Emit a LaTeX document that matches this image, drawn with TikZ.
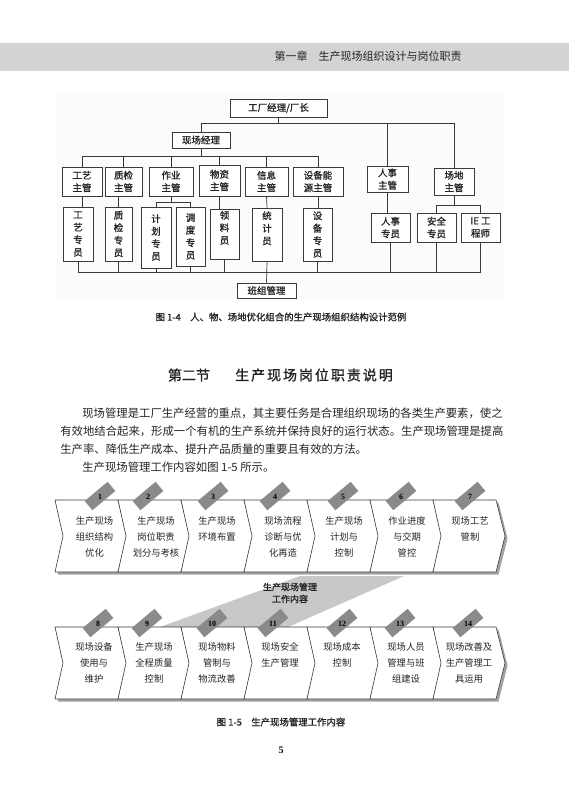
\documentclass[tikz,border=0pt]{standalone}
\usepackage{fontspec}
\setmainfont{Liberation Serif}
\newfontfamily\cjk{Noto Sans CJK SC}
\newfontfamily\cjkbold[FakeBold=1.2]{Noto Sans CJK SC}
\usetikzlibrary{positioning}
\definecolor{cink}{HTML}{242424}
\definecolor{cline}{HTML}{3A3A3A}
\definecolor{cband}{HTML}{D3D3D3}
\definecolor{cwedge}{HTML}{C8C8C8}
\definecolor{ctag}{HTML}{8A8A8A}
\definecolor{cshade}{HTML}{A2A2A2}
\tikzset{
  every picture/.style={line width=0.7pt},
  orgbox/.style={draw=cline, fill=white, align=center, inner sep=0pt, text=cink, font=\cjkbold\fontsize{9.5}{12.5}\selectfont},
  link/.style={draw=cline, line width=0.7pt},
  chev/.style={draw=cline, fill=white, line width=0.6pt},
  chevtext/.style={anchor=north, align=center, inner sep=0pt, text=cink, font=\cjk\fontsize{9.3}{16}\selectfont},
  tag/.style={fill=ctag, rotate=40, minimum width=30pt, minimum height=12pt, inner sep=0pt},
  tagnum/.style={inner sep=0pt, text=black, font=\bfseries\fontsize{8}{9}\selectfont},
  body/.style={anchor=west, inner sep=0pt, text=cink, font=\cjk\fontsize{11.36}{14}\selectfont},
  caption/.style={inner sep=0pt, text=cink, font=\cjkbold\fontsize{9.4}{12}\selectfont},
}

\begin{document}
\begin{tikzpicture}[x=1pt, y=-1pt]
  \useasboundingbox (0,0) rectangle (569,800);
  % ---------- running head ----------
  \fill[cband] (0,43) rectangle (569,71);
  \node[anchor=east, inner sep=0pt, text=cink, font=\cjk\fontsize{11}{13}\selectfont] (head) at (462,56) {第一章\quad 生产现场组织设计与岗位职责};

  % ---------- figure 1-4: organisation chart ----------
  \fill[black!1.5] (57,92) rectangle (503,301);
  \coordinate (bus1) at (0,123);
  \coordinate (bus2) at (0,156);
  \coordinate (bus3) at (0,272);
  \node[orgbox, minimum width=97pt, minimum height=18pt] (fm) at (278.5,108) {工厂经理/厂长};
  \node[orgbox, minimum width=58pt, minimum height=16pt] (sm) at (201,140) {现场经理};
  \node[orgbox, minimum width=40pt, minimum height=29pt] (gy) at (82,181.5) {工艺\\主管};
  \node[orgbox, minimum width=37pt, minimum height=29pt] (zj) at (123.5,181.5) {质检\\主管};
  \node[orgbox, minimum width=44pt, minimum height=29pt] (zy) at (171,181.5) {作业\\主管};
  \node[orgbox, minimum width=41pt, minimum height=31pt] (wz) at (219.5,180.5) {物资\\主管};
  \node[orgbox, minimum width=43pt, minimum height=29pt] (xx) at (266.5,181.5) {信息\\主管};
  \node[orgbox, minimum width=50pt, minimum height=29pt] (sb) at (318,181.5) {设备能\\源主管};
  \node[orgbox, minimum width=41pt, minimum height=26pt] (rs) at (387.5,179) {人事\\主管};
  \node[orgbox, minimum width=40pt, minimum height=27pt] (cd) at (454,181.5) {场地\\主管};
  \node[orgbox, minimum width=30pt, minimum height=54pt] (gy2) at (78,234) {工\\艺\\专\\员};
  \node[orgbox, minimum width=27pt, minimum height=54pt] (zj2) at (118.5,234) {质\\检\\专\\员};
  \node[orgbox, minimum width=30pt, minimum height=61pt] (jh) at (156,237.5) {计\\划\\专\\员};
  \node[orgbox, minimum width=29pt, minimum height=59pt] (dd) at (190.5,236.5) {调\\度\\专\\员};
  \node[orgbox, minimum width=29pt, minimum height=50pt] (ll) at (224.5,234) {领\\料\\员\\\phantom{员}};
  \node[orgbox, minimum width=30pt, minimum height=53pt] (tj) at (267,234.5) {统\\计\\员\\\phantom{员}};
  \node[orgbox, minimum width=29pt, minimum height=53pt] (sb2) at (317.5,234.5) {设\\备\\专\\员};
  \node[orgbox, minimum width=39pt, minimum height=29pt] (rs2) at (390.5,227.5) {人事\\专员};
  \node[orgbox, minimum width=39pt, minimum height=29pt] (aq) at (436.5,227.5) {安全\\专员};
  \node[orgbox, minimum width=39pt, minimum height=29pt] (ie) at (480.5,227.5) {IE 工\\程师};
  \node[orgbox, minimum width=59pt, minimum height=15pt] (bz) at (266.5,290.5) {班组管理};
  % top two levels
  \draw[link] (fm.south) -- (fm.south |- bus1);
  \draw[link] (sm.north) |- (cd.north |- bus1) -- (cd.north);
  \draw[link] (rs.north) -- (rs.north |- bus1);
  \draw[link] (sm.south) -- (sm.south |- bus2);
  \draw[link] (gy.north) |- (sb.north |- bus2) -- (sb.north);
  \draw[link] (zj.north) -- (zj.north |- bus2);
  \draw[link] (zy.north) -- (zy.north |- bus2);
  \draw[link] (wz.north) -- (wz.north |- bus2);
  \draw[link] (xx.north) -- (xx.north |- bus2);
  % chiefs to staff
  \draw[link] (gy.south) -- (gy.south |- gy2.north);
  \draw[link] (zj2.north |- zj.south) -- (zj2.north);
  \draw[link] (zy.south) -- ++(0,6) coordinate (zysplit);
  \draw[link] (jh.north) |- (dd.north |- zysplit) -- (dd.north);
  \draw[link] (wz.south) -- (wz.south |- ll.north);
  \draw[link] (xx.south) -- (tj.north);
  \draw[link] (sb.south) -- (sb.south |- sb2.north);
  \draw[link] (rs.south) -- (rs.south |- rs2.north);
  \draw[link] (cd.south) -- ++(0,10) coordinate (cdsplit);
  \draw[link] (aq.north) |- (ie.north |- cdsplit) -- (ie.north);
  % staff to team management
  \draw[link] (gy2.south) |- (ie.south |- bus3) -- (ie.south);
  \draw[link] (zj2.south) -- (zj2.south |- bus3);
  \draw[link] (jh.south) -- (jh.south |- bus3);
  \draw[link] (dd.south) -- (dd.south |- bus3);
  \draw[link] (ll.south) -- (ll.south |- bus3);
  \draw[link] (sb2.south) -- (sb2.south |- bus3);
  \draw[link] (rs2.south) -- (rs2.south |- bus3);
  \draw[link] (aq.south) -- (aq.south |- bus3);
  \draw[link] (tj.south) -- (bz.north);
  \node[caption] (cap4) at (281,317) {图 1-4\quad 人、物、场地优化组合的生产现场组织结构设计范例};

  % ---------- section title and text ----------
  \node[inner sep=0pt, text=cink, font=\cjkbold\fontsize{14}{16}\selectfont] (sec) at (189,375) {第二节};
  \node[inner sep=0pt, text=cink, font=\cjkbold\fontsize{14}{16}\selectfont\addfontfeature{LetterSpace=14}] (sectitle) at (314,375) {生产现场岗位职责说明};
  \node[body] (p1) at (82,413) {现场管理是工厂生产经营的重点，其主要任务是合理组织现场的各类生产要素，使之};
  \node[body] (p2) at (60,431) {有效地结合起来，形成一个有机的生产系统并保持良好的运行状态。生产现场管理是提高};
  \node[body] (p3) at (60,449) {生产率、降低生产成本、提升产品质量的重要且有效的方法。};
  \node[body] (p4) at (82,467) {生产现场管理工作内容如图 1-5 所示。};

  % ---------- figure 1-5: work content chevrons ----------
  \fill[cwedge] (300,576) -- (404,576) -- (288,627) -- (160,627) -- cycle;
  \node[inner sep=0pt, align=center, text=cink, font=\cjkbold\fontsize{9}{12}\selectfont] (core) at (290,593) {生产现场管理\\工作内容};
  % shadows of the two rows
  \fill[cshade] (57.5,502.5) -- (498.5,502.5) -- (507.5,538.5) -- (498.5,574.5) -- (57.5,574.5) -- (65.5,538.5) -- cycle;
  \fill[cshade] (57.5,629.5) -- (498.5,629.5) -- (507.5,665.5) -- (498.5,701.5) -- (57.5,701.5) -- (65.5,665.5) -- cycle;
  \foreach \l/\r in {55/118,118/181,181/244,244/307,307/370,370/433,433/496}{
    \draw[chev] (\l,500) -- (\r,500) -- (\r+9,536) -- (\r,572) -- (\l,572) -- (\l+8,536) -- cycle;
    \draw[chev] (\l,627) -- (\r,627) -- (\r+9,663) -- (\r,699) -- (\l,699) -- (\l+8,663) -- cycle;
  }
  % top row
  \node[chevtext] (c1) at (94.5,516) {生产现场\\组织结构\\优化};
  \node[chevtext] (c2) at (156,516) {生产现场\\岗位职责\\划分与考核};
  \node[chevtext] (c3) at (217,516) {生产现场\\环境布置};
  \node[chevtext] (c4) at (283,516) {现场流程\\诊断与优\\化再造};
  \node[chevtext] (c5) at (344,516) {生产现场\\计划与\\控制};
  \node[chevtext] (c6) at (407,516) {作业进度\\与交期\\管控};
  \node[chevtext] (c7) at (470,516) {现场工艺\\管制};
  % bottom row
  \node[chevtext] (c8) at (94,642) {现场设备\\使用与\\维护};
  \node[chevtext] (c9) at (154,642) {生产现场\\全程质量\\控制};
  \node[chevtext] (c10) at (217,642) {现场物料\\管制与\\物流改善};
  \node[chevtext] (c11) at (280,642) {现场安全\\生产管理};
  \node[chevtext] (c12) at (342,642) {现场成本\\控制};
  \node[chevtext] (c13) at (406,642) {现场人员\\管理与班\\组建设};
  \node[chevtext] (c14) at (469,642) {现场改善及\\生产管理工\\具运用};
  % number tags
  \foreach \n/\x/\y in {1/100/496, 2/148/496, 3/213/496, 4/275/496, 5/343/496, 6/401/496, 7/470/496,
                        8/98/623, 9/147/623, 10/212/623, 11/273/623, 12/342/623, 13/400/623, 14/468/623}{
    \node[tag] (t\n) at (\x,\y) {};
    \node[tagnum] (n\n) at ([yshift=-1pt]t\n.center) {\n};
  }
  \node[caption] (cap5) at (281,722) {图 1-5\quad 生产现场管理工作内容};

  \node[inner sep=0pt, font=\bfseries\fontsize{10}{12}\selectfont] (pg) at (281,750) {5};
\end{tikzpicture}
\end{document}
